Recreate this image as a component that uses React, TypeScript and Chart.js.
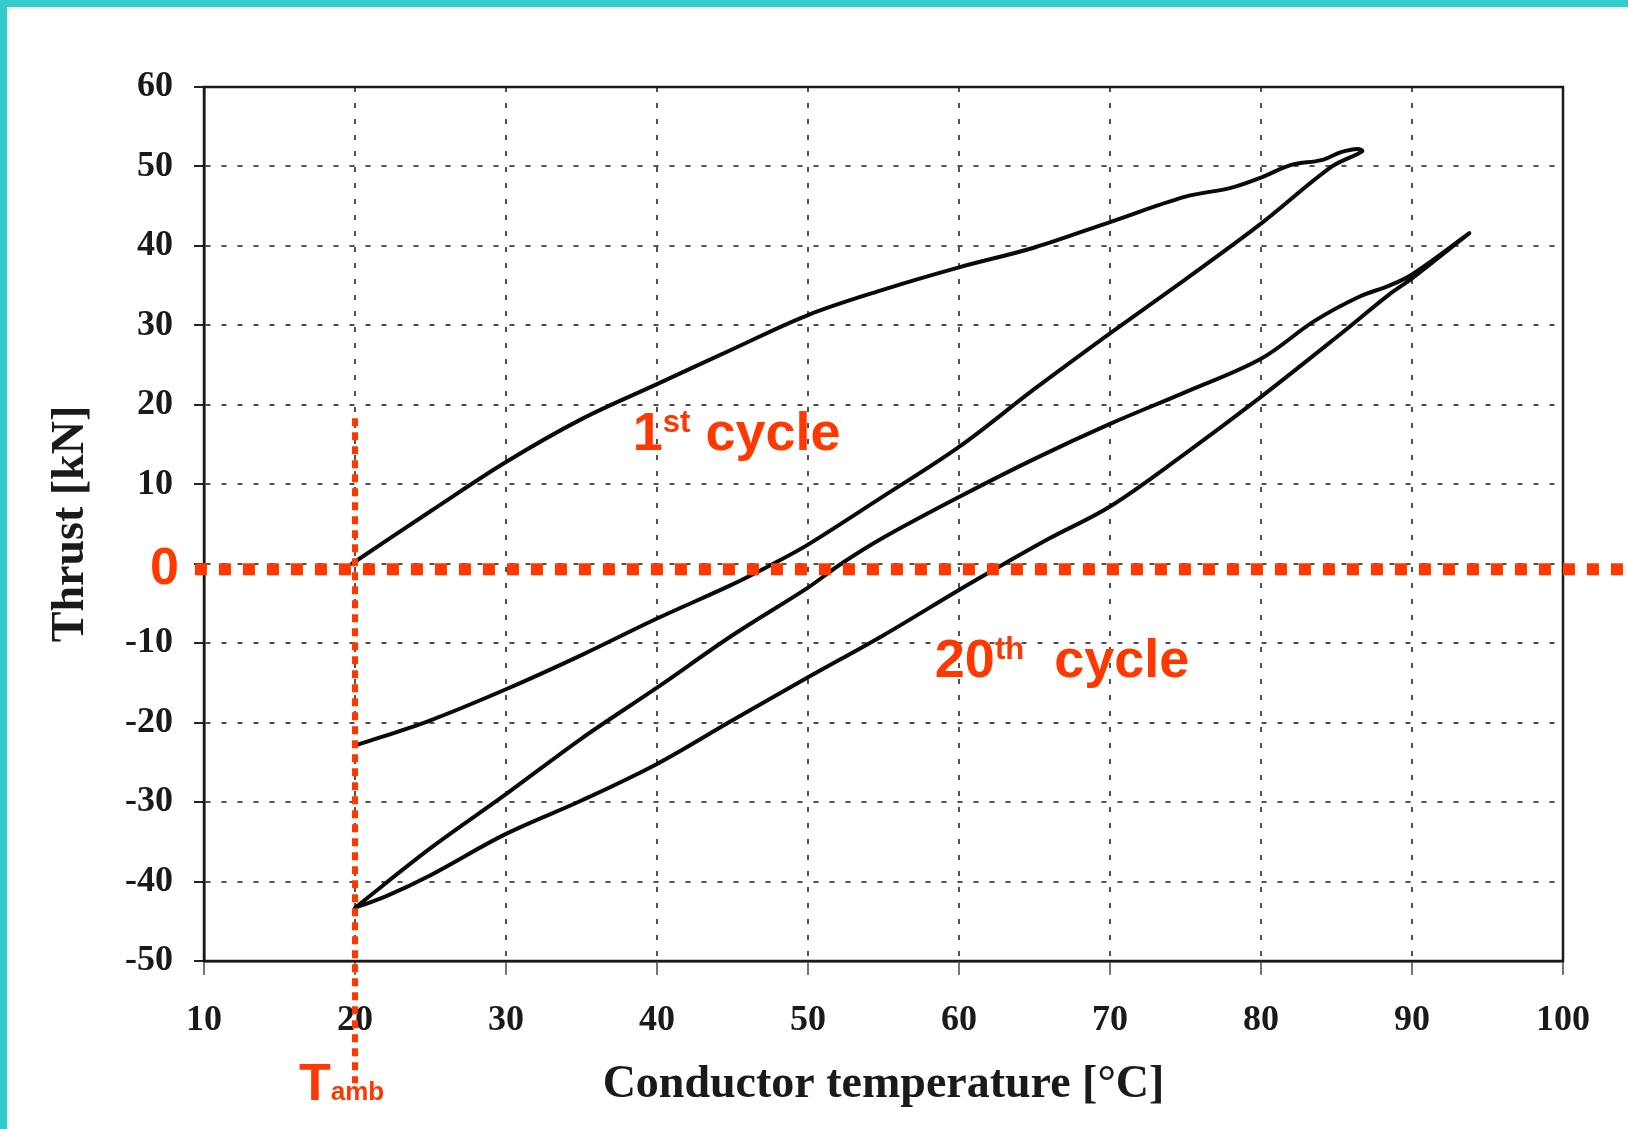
import React, { useEffect, useRef } from "react";
import { Chart, registerables } from "chart.js";

Chart.register(...registerables);

// ---- Data ----
const xTicks = [10, 20, 30, 40, 50, 60, 70, 80, 90, 100];
const yTicks = [-50, -40, -30, -20, -10, 0, 10, 20, 30, 40, 50, 60];

// 1st cycle: heating branch then cooling branch
const cycle1HeatingTemp = [19.8, 25, 30, 35, 40, 45, 50, 55, 60, 65, 70, 75, 78, 80, 82, 84, 85.3, 86.4];
const cycle1HeatingThrust = [0, 6.6, 12.8, 18.2, 22.6, 27.0, 31.3, 34.5, 37.3, 39.8, 43.0, 46.2, 47.3, 48.6, 50.2, 50.8, 51.8, 52.2];
const cycle1CoolingTemp = [86.7, 84.7, 80, 75, 70, 65, 60, 55, 50, 47.7, 45, 40, 35, 30, 25, 20];
const cycle1CoolingThrust = [51.9, 50.0, 42.8, 35.8, 29.0, 22.0, 14.7, 8.5, 2.4, 0, -2.6, -6.9, -11.5, -15.8, -19.7, -22.9];

// 20th cycle: heating branch then cooling branch
const cycle20HeatingTemp = [20, 25, 30, 35, 40, 45, 50, 52.2, 55, 60, 65, 70, 75, 80, 83.5, 86.5, 88.5, 90, 93.8];
const cycle20HeatingThrust = [-43.3, -35.8, -29.0, -22.0, -15.6, -9.0, -3.0, 0, 3.3, 8.4, 13.2, 17.6, 21.6, 25.8, 30.5, 33.6, 35.0, 36.4, 41.6];
const cycle20CoolingTemp = [93.8, 90, 88.5, 85, 80, 75, 70, 66, 63, 60, 55, 50, 45, 40, 35, 30, 25, 22, 20];
const cycle20CoolingThrust = [41.6, 35.9, 33.9, 28.5, 21.0, 13.9, 7.2, 3.2, 0, -3.3, -9.0, -14.3, -19.7, -25.2, -29.8, -34.0, -39.2, -41.9, -43.3];

// Annotations
const ambientTemp = 20;
const ambientLineTop = 18.3;
const ambientLineBottom = -65.4;
const zeroLineThrust = -0.7;
const zeroLineStartTemp = 9.4;
const zeroLabel = { text: "0", temp: 8.34, thrust: -2.55 };
const ambientLabel = { main: "T", sub: "amb", temp: 16.29, thrust: -67.5 };
const cycle1Label = { main: "1", sup: "st", rest: " cycle", temp: 38.4, thrust: 14.3 };
const cycle20Label = { main: "20", sup: "th", rest: "  cycle", temp: 58.4, thrust: -14.26 };

const RED = "#ff3800";
const SANS = '"Liberation Sans", Arial, sans-serif';
const SERIF = '"Liberation Serif", "Times New Roman", serif';

const zip = (t: number[], f: number[]) => t.map((v, i) => ({ x: v, y: f[i] }));

const overlayPlugin = {
  id: "overlay",
  beforeDatasetsDraw(chart: any) {
    const { ctx, chartArea } = chart;
    ctx.save();
    ctx.strokeStyle = "#1a1a1a";
    ctx.lineWidth = 2.5;
    ctx.setLineDash([]);
    ctx.strokeRect(chartArea.left, chartArea.top, chartArea.right - chartArea.left, chartArea.bottom - chartArea.top);
    ctx.restore();
  },
  afterDatasetsDraw(chart: any) {
    const { ctx } = chart;
    const xs = chart.scales.x;
    const ys = chart.scales.y;
    ctx.save();
    // zero line
    ctx.strokeStyle = RED;
    ctx.lineCap = "butt";
    ctx.lineWidth = 12;
    ctx.setLineDash([12, 12]);
    const y0 = ys.getPixelForValue(zeroLineThrust);
    ctx.beginPath();
    ctx.moveTo(xs.getPixelForValue(zeroLineStartTemp), y0);
    ctx.lineTo(chart.width + 20, y0);
    ctx.stroke();
    // ambient temperature line
    ctx.lineWidth = 6;
    ctx.setLineDash([8, 6]);
    const xa = xs.getPixelForValue(ambientTemp);
    ctx.beginPath();
    ctx.moveTo(xa, ys.getPixelForValue(ambientLineTop));
    ctx.lineTo(xa, ys.getPixelForValue(ambientLineBottom));
    ctx.stroke();
    ctx.setLineDash([]);

    ctx.fillStyle = RED;
    ctx.textBaseline = "alphabetic";
    // "0"
    ctx.font = `bold 52px ${SANS}`;
    ctx.textAlign = "right";
    ctx.fillText(zeroLabel.text, xs.getPixelForValue(zeroLabel.temp), ys.getPixelForValue(zeroLabel.thrust));
    ctx.textAlign = "left";
    // T amb
    {
      const x = xs.getPixelForValue(ambientLabel.temp);
      const y = ys.getPixelForValue(ambientLabel.thrust);
      ctx.font = `bold 52px ${SANS}`;
      ctx.fillText(ambientLabel.main, x, y);
      const w = ctx.measureText(ambientLabel.main).width;
      ctx.font = `bold 26px ${SANS}`;
      ctx.fillText(ambientLabel.sub, x + w, y);
    }
    // ordinal labels
    const drawOrdinal = (lab: any) => {
      const x = xs.getPixelForValue(lab.temp);
      const y = ys.getPixelForValue(lab.thrust);
      ctx.font = `bold 54px ${SANS}`;
      ctx.fillText(lab.main, x, y);
      const w1 = ctx.measureText(lab.main).width;
      ctx.font = `bold 31px ${SANS}`;
      ctx.fillText(lab.sup, x + w1, y - 18);
      const w2 = ctx.measureText(lab.sup).width;
      ctx.font = `bold 54px ${SANS}`;
      ctx.fillText(lab.rest, x + w1 + w2, y);
    };
    drawOrdinal(cycle1Label);
    drawOrdinal(cycle20Label);
    ctx.restore();
  },
};

export default function App() {
  const canvasRef = useRef<HTMLCanvasElement | null>(null);

  useEffect(() => {
    const canvas = canvasRef.current;
    if (!canvas) return;
    const lineStyle = {
      showLine: true,
      borderColor: "#0a0a0a",
      borderWidth: 4,
      pointRadius: 0,
      tension: 0.35,
      fill: false,
      borderJoinStyle: "round" as const,
      borderCapStyle: "round" as const,
    };
    const chart = new Chart(canvas, {
      type: "scatter",
      data: {
        datasets: [
          {
            label: "1st cycle",
            data: [...zip(cycle1HeatingTemp, cycle1HeatingThrust), ...zip(cycle1CoolingTemp, cycle1CoolingThrust)],
            ...lineStyle,
          },
          {
            label: "20th cycle",
            data: [...zip(cycle20HeatingTemp, cycle20HeatingThrust), ...zip(cycle20CoolingTemp, cycle20CoolingThrust)],
            ...lineStyle,
          },
        ],
      },
      options: {
        animation: false,
        responsive: false,
        maintainAspectRatio: false,
        layout: { padding: { left: 0, top: 87, right: 65, bottom: 0 } },
        plugins: { legend: { display: false }, tooltip: { enabled: false } },
        scales: {
          x: {
            type: "linear",
            min: xTicks[0],
            max: xTicks[xTicks.length - 1],
            afterBuildTicks: (s: any) => {
              s.ticks = xTicks.map((v) => ({ value: v }));
            },
            afterFit: (s: any) => {
              s.height = 168;
            },
            ticks: {
              autoSkip: false,
              maxRotation: 0,
              padding: 24,
              color: "#1a1a1a",
              font: { family: SERIF, size: 36, weight: "bold" },
              callback: (v: any) => String(v),
            },
            grid: {
              color: "rgba(50,50,50,0.85)",
              lineWidth: 2,
              drawTicks: true,
              tickLength: 14,
              tickColor: "rgba(60,60,60,0.7)",
              tickWidth: 2,
              tickBorderDash: [],
            },
            border: { display: true, color: "#1a1a1a", width: 2.5, dash: [5, 11] },
            title: {
              display: true,
              text: "Conductor temperature [°C]",
              color: "#1a1a1a",
              font: { family: SERIF, size: 46, weight: "bold" },
              padding: { top: 0, bottom: 16 },
            },
          },
          y: {
            type: "linear",
            min: yTicks[0],
            max: yTicks[yTicks.length - 1],
            afterBuildTicks: (s: any) => {
              s.ticks = yTicks.map((v) => ({ value: v }));
            },
            afterFit: (s: any) => {
              s.width = 204;
            },
            ticks: {
              autoSkip: false,
              padding: 21,
              color: "#1a1a1a",
              font: { family: SERIF, size: 36, weight: "bold" },
              // the zero label is replaced by the red "0" annotation
              callback: (v: any) => (v === 0 ? "" : String(v)),
            },
            grid: {
              color: "rgba(50,50,50,0.85)",
              lineWidth: 2,
              drawTicks: true,
              tickLength: 10,
              tickColor: "#222",
              tickWidth: 2,
              tickBorderDash: [],
            },
            border: { display: true, color: "#1a1a1a", width: 2.5, dash: [5, 11] },
            title: {
              display: true,
              text: "Thrust [kN]",
              color: "#1a1a1a",
              font: { family: SERIF, size: 46, weight: "bold" },
              padding: { top: 44, bottom: 0 },
            },
          },
        },
      } as any,
      plugins: [overlayPlugin],
    });
    return () => chart.destroy();
  }, []);

  return (
    <div
      style={{
        position: "absolute",
        left: 0,
        top: 0,
        width: 1628,
        height: 1129,
        background: "#ffffff",
        overflow: "hidden",
      }}
    >
      <canvas
        ref={canvasRef}
        width={1628}
        height={1129}
        style={{ position: "absolute", left: 0, top: 0, width: 1628, height: 1129 }}
      />
      <div style={{ position: "absolute", left: 0, top: 0, width: 1628, height: 7, background: "#33cccc" }} />
      <div style={{ position: "absolute", left: 0, top: 0, width: 7, height: 1129, background: "#33cccc" }} />
    </div>
  );
}
